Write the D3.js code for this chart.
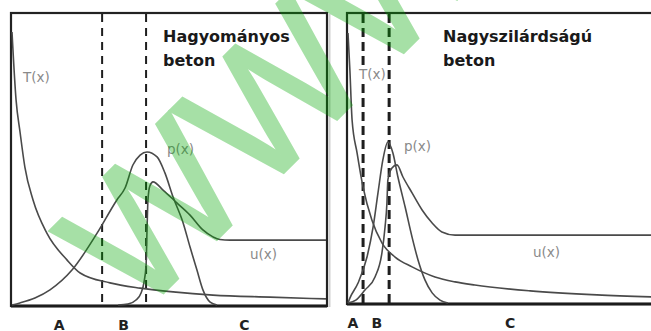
<!DOCTYPE html>
<html>
<head>
<meta charset="utf-8">
<script src="https://cdn.jsdelivr.net/npm/d3@7"></script>
<style>
  html, body { margin: 0; padding: 0; background: #fff; }
  svg { display: block; }
</style>
</head>
<body>
<svg id="chart" width="651" height="331"></svg>
<script>
// Zone labels under each panel
const zones = ["A", "B", "C"];

// Conventional concrete (left panel): curves as [x, value] on a 0–100 scale
const convTitle = ["Hagyományos", "beton"];
const convT = [[0,93.8],[1.3,70.4],[2.6,59.1],[4.1,47.4],[6.7,36.1],[11.1,24.7],[17.5,15.5],[21.7,11.0],[31.2,7.6],[40.8,5.8],[51.3,4.5],[64.0,3.4],[82.2,2.7],[100,2.1]];
const convP = [[0,0],[2.5,0.7],[7.3,2.4],[12.1,5.2],[19.1,12.0],[27.1,24.7],[33.4,36.1],[36.0,40.2],[38.5,48.1],[40.8,51.5],[43.0,52.6],[46.2,50.9],[48.7,45.4],[51.3,37.1],[54.5,28.2],[56.7,19.9],[58.9,12.0],[60.8,5.2],[63.1,1.0],[65.3,0]];
const convU = [[33.8,0],[36.9,0.3],[39.5,1.7],[41.1,4.1],[42.0,7.6],[42.7,13.7],[43.0,25.8],[43.3,36.1],[43.9,40.9],[44.9,42.3],[48.1,39.5],[52.5,35.1],[56.7,30.9],[60.8,25.8],[64.0,23.4],[66.2,22.5],[69.4,22.3],[100,22.3]];
const convBounds = [28.7, 42.7];
const convZoneX = [15, 35.5, 74];

// High-strength concrete (right panel)
const hsTitle = ["Nagyszilárdságú", "beton"];
const hsT = [[0,93.4],[0.6,80.6],[1.3,63.3],[2.9,51.9],[4.8,40.1],[7.6,28.7],[10.8,20.8],[15.0,15.9],[20.4,12.5],[27.7,9.0],[34.1,7.3],[40.4,6.2],[58.0,4.2],[79.3,2.8],[100,2.0]];
const hsP = [[0,0],[0.6,1.7],[3.2,6.9],[6.05,15.9],[8.0,26.3],[9.55,38.1],[11.1,49.5],[12.7,55.7],[14.3,51.9],[15.9,43.6],[18.2,33.2],[20.4,22.8],[22.3,14.9],[24.5,8.0],[26.8,3.5],[29.3,1.0],[31.8,0]];
const hsU = [[0,0],[2.5,1.0],[5.4,4.5],[8.6,9.0],[10.8,17.3],[11.8,26.3],[12.4,34.6],[12.7,42.6],[14.0,46.7],[15.6,47.8],[17.5,43.6],[20.4,38.1],[23.6,32.2],[26.8,27.7],[29.9,24.6],[34.1,23.5],[38.9,23.5],[100,23.5]];
const hsBounds = [4.8, 13.1];
const hsZoneX = [1.6, 9.2, 51.6];

const svg = d3.select("#chart");

function drawPanel(opt) {
  const x = d3.scaleLinear().domain([0, 100]).range(opt.xRange);
  const y = d3.scaleLinear().domain([0, 100]).range(opt.yRange);
  const g = svg.append("g");
  const [x0, x1] = opt.xRange;
  const [yb, yt] = opt.yRange;

  // frame
  g.append("rect")
    .attr("x", x0 - 1).attr("y", yt - 1)
    .attr("width", x1 - x0 + 2).attr("height", yb - yt + 2)
    .attr("fill", "none").attr("stroke", "#222").attr("stroke-width", 2.2);
  // baseline axis, heavier
  g.append("line")
    .attr("x1", x0 - 1).attr("x2", x1 + 1)
    .attr("y1", y(0) + 1).attr("y2", y(0) + 1)
    .attr("stroke", "#1c1c1c").attr("stroke-width", 3);

  // zone boundaries
  g.selectAll("line.bound").data(opt.bounds).join("line")
    .attr("class", "bound")
    .attr("x1", d => x(d)).attr("x2", d => x(d))
    .attr("y1", yt).attr("y2", y(0))
    .attr("stroke", "#1e1e1e")
    .attr("stroke-width", opt.dashWidth)
    .attr("stroke-dasharray", opt.dash);

  // curves
  const line = d3.line()
    .x(d => x(d[0])).y(d => y(d[1]))
    .curve(d3.curveMonotoneX);
  g.selectAll("path.curve").data(opt.curves).join("path")
    .attr("class", "curve")
    .attr("d", d => line(d))
    .attr("fill", "none")
    .attr("stroke", "#4a4a4a")
    .attr("stroke-width", 1.6);

  // curve labels (some sit on a white patch that interrupts the dashed lines)
  const lab = g.selectAll("g.clabel").data(opt.labels).join("g").attr("class", "clabel");
  lab.filter(d => d.knockout).append("rect")
    .attr("x", d => d.x - 2).attr("y", d => d.y - 13)
    .attr("width", 30).attr("height", 17)
    .attr("fill", "#fff");
  lab.append("text")
    .attr("x", d => d.x).attr("y", d => d.y)
    .attr("font-family", "DejaVu Sans")
    .attr("font-size", 13.5)
    .attr("fill", "#8a8a8a")
    .text(d => d.t);

  // title
  g.append("text")
    .attr("x", opt.titlePos[0]).attr("y", opt.titlePos[1])
    .attr("font-family", "DejaVu Sans")
    .attr("font-weight", "bold")
    .attr("font-size", 16)
    .attr("fill", "#1a1a1a")
    .selectAll("tspan").data(opt.title).join("tspan")
    .attr("x", opt.titlePos[0])
    .attr("dy", (d, i) => i === 0 ? 0 : 24)
    .text(d => d);

  // zone letters
  g.selectAll("text.zone").data(zones).join("text")
    .attr("class", "zone")
    .attr("x", (d, i) => x(opt.zoneX[i]))
    .attr("y", opt.zoneY)
    .attr("text-anchor", "middle")
    .attr("font-family", "DejaVu Sans")
    .attr("font-weight", "bold")
    .attr("font-size", 14)
    .attr("fill", "#222")
    .text(d => d);
}

drawPanel({
  xRange: [12, 326], yRange: [305, 14],
  bounds: convBounds, dash: "8,6", dashWidth: 2,
  curves: [convT, convP, convU],
  labels: [{t: "T(x)", x: 23, y: 82}, {t: "p(x)", x: 167, y: 154}, {t: "u(x)", x: 250, y: 259}],
  title: convTitle, titlePos: [163, 42],
  zoneX: convZoneX, zoneY: 329.5
});
// light shadow along the right edge of the left frame
svg.append("line")
  .attr("x1", 329.5).attr("x2", 329.5).attr("y1", 14).attr("y2", 307)
  .attr("stroke", "#d0d0d0").attr("stroke-width", 2);

drawPanel({
  xRange: [348, 668], yRange: [303, 14],
  bounds: hsBounds.map(v => v * 314 / 320), dash: "9,5", dashWidth: 3,
  curves: [hsT, hsP, hsU].map(c => c.map(([a, b]) => [a * 314 / 320, b])),
  labels: [{t: "T(x)", x: 359, y: 79, knockout: true}, {t: "p(x)", x: 404, y: 151}, {t: "u(x)", x: 533, y: 257}],
  title: hsTitle, titlePos: [443, 42],
  zoneX: hsZoneX.map(v => v * 314 / 320), zoneY: 328
});

// watermark
svg.append("g")
  .attr("opacity", 0.345)
  .append("text")
  .attr("transform", "translate(137,319) rotate(-45)")
  .attr("font-family", "Liberation Sans")
  .attr("font-size", 180)
  .attr("fill", "rgb(0,168,0)")
  .attr("stroke", "rgb(0,168,0)")
  .attr("stroke-width", 3)
  .attr("stroke-linejoin", "miter")
  .text("WWW");
</script>
</body>
</html>
